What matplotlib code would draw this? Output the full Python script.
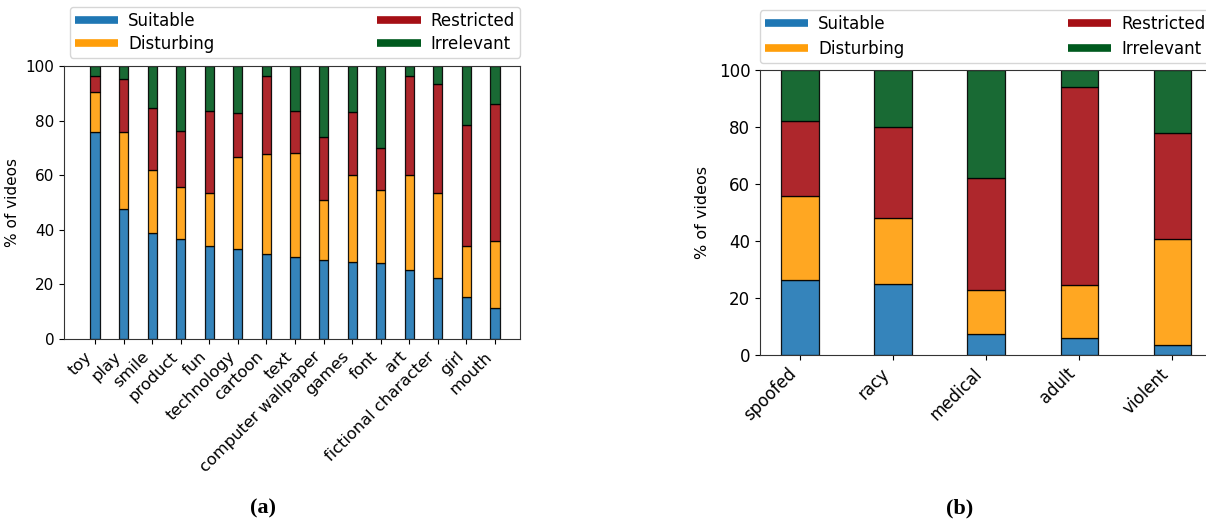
import numpy as np
import matplotlib.pyplot as plt
from matplotlib.lines import Line2D

plt.rcParams['font.family'] = ['DejaVu Sans']

# (a) labels
labels_a = ['toy', 'play', 'smile', 'product', 'fun', 'technology', 'cartoon',
            'text', 'computer wallpaper', 'games', 'font', 'art',
            'fictional character', 'girl', 'mouth']
suitable_a = [75.9, 47.7, 38.7, 36.8, 34.0, 32.9, 31.3, 30.0, 28.9, 28.3, 27.9, 25.1, 22.3, 15.3, 11.3]
disturbing_a = [14.6, 28.1, 23.2, 18.9, 19.5, 33.9, 36.5, 38.1, 22.0, 31.8, 26.7, 35.1, 31.3, 18.6, 24.6]
restricted_a = [5.9, 19.5, 22.8, 20.6, 30.0, 16.1, 28.4, 15.3, 23.2, 23.1, 15.4, 36.0, 39.7, 44.4, 50.3]
irrelevant_a = [3.6, 4.7, 15.3, 23.7, 16.5, 17.1, 3.8, 16.6, 25.9, 16.8, 30.0, 3.8, 6.7, 21.7, 13.8]

# (b) labels
labels_b = ['spoofed', 'racy', 'medical', 'adult', 'violent']
suitable_b = [26.4, 25.0, 7.4, 6.1, 3.6]
disturbing_b = [29.5, 23.2, 15.4, 18.3, 37.1]
restricted_b = [26.3, 31.9, 39.3, 69.6, 37.2]
irrelevant_b = [17.8, 19.9, 37.9, 6.0, 22.1]

cats = ['Suitable', 'Disturbing', 'Restricted', 'Irrelevant']
colors = ['#1f77b4', '#ff9e0a', '#a50f15', '#005a1e']


def stacked(ax, labels, series, width):
    x = np.arange(len(labels))
    bottom = np.zeros(len(labels))
    for vals, c in zip(series, colors):
        vals = np.array(vals)
        ax.bar(x, vals, width, bottom=bottom, color=c, alpha=0.9,
               edgecolor='black', linewidth=0.9)
        bottom += vals
    ax.set_xticks(x)
    ax.set_ylim(0, 100)
    for s in ax.spines.values():
        s.set_color('#333333')
    return x


def legend(ax, fs, anchor, spacing):
    handles = [Line2D([], [], color=c, lw=5.5, solid_capstyle='butt') for c in colors]
    ax.legend(handles, cats, ncol=2, mode='expand', loc='lower left',
              bbox_to_anchor=anchor, fontsize=fs, handlelength=2.6,
              borderaxespad=0, frameon=True, labelspacing=spacing,
              borderpad=0.3, handletextpad=0.6)


fig = plt.figure(figsize=(12.06, 5.23), dpi=100)

ax1 = fig.add_axes([64 / 1206, 184 / 523, 456 / 1206, 273 / 523])
stacked(ax1, labels_a, [suitable_a, disturbing_a, restricted_a, irrelevant_a], 0.32)
ax1.set_xlim(-1.085, 14.875)
ax1.set_xticklabels(labels_a, rotation=45, ha='right', fontsize=11.7)
ax1.tick_params(axis='y', labelsize=11)
ax1.set_ylabel('% of videos', fontsize=11, labelpad=4)
legend(ax1, 12, (0.013, 1.03, 0.987, 0.2), 0.28)

ax2 = fig.add_axes([760 / 1206, 168 / 523, 468 / 1206, 285 / 523])
stacked(ax2, labels_b, [suitable_b, disturbing_b, restricted_b, irrelevant_b], 0.4)
ax2.set_xlim(-0.43, 4.6)
ax2.spines['right'].set_visible(False)
ax2.set_xticklabels(labels_b, rotation=45, ha='right', fontsize=12)
ax2.tick_params(axis='y', labelsize=12)
ax2.set_ylabel('% of videos', fontsize=11.5, labelpad=6)
legend(ax2, 12, (0.0, 1.025, 0.962, 0.2), 0.4)

fig.text(263 / 1206, 1 - 508 / 523, '(a)', fontsize=16, fontweight='bold',
         family='Liberation Serif', ha='center', va='center')
fig.text(960 / 1206, 1 - 508 / 523, '(b)', fontsize=16, fontweight='bold',
         family='Liberation Serif', ha='center', va='center')

fig.savefig('out.png', dpi=100)
